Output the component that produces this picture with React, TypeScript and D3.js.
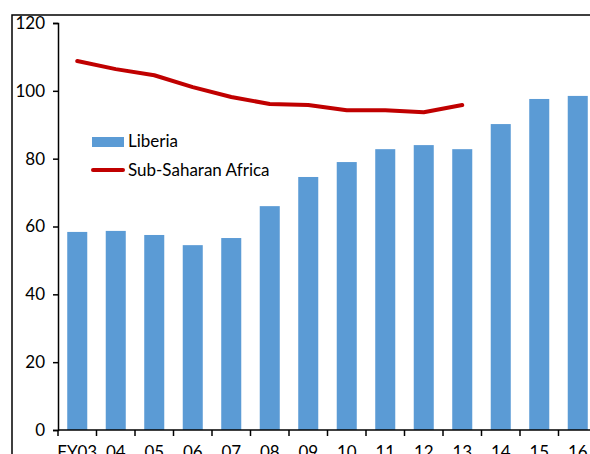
import React, { useEffect, useRef } from "react";
import * as d3 from "d3";

const years = ["FY03", "04", "05", "06", "07", "08", "09", "10", "11", "12", "13", "14", "15", "16"];
const liberia = [58.4, 58.7, 57.5, 54.5, 56.6, 66, 74.6, 79, 82.8, 84, 82.8, 90.2, 97.6, 98.5];
const ssa = [108.8, 106.4, 104.6, 101.1, 98.2, 96.1, 95.8, 94.3, 94.3, 93.7, 95.8];
const yTicks = [0, 20, 40, 60, 80, 100, 120];

const App = () => {
    const ref = useRef<SVGSVGElement>(null);

    useEffect(() => {
        const svg = d3.select(ref.current);
        svg.selectAll("*").remove();
        const font = "Lato, 'Open Sans', sans-serif";

        const x = d3.scaleBand().domain(years).range([58, 597]).paddingInner(0.48).paddingOuter(0.24);
        const y = d3.scaleLinear().domain([0, 120]).range([430, 23]);

        // outer frame
        svg.append("rect")
            .attr("x", 12).attr("y", 15)
            .attr("width", 600).attr("height", 460)
            .attr("fill", "none").attr("stroke", "#000").attr("stroke-width", 1.5);

        svg.append("g")
            .selectAll("rect")
            .data(liberia)
            .enter()
            .append("rect")
            .attr("x", (d, i) => x(years[i])!)
            .attr("y", d => y(d))
            .attr("width", x.bandwidth())
            .attr("height", d => y(0) - y(d))
            .attr("fill", "#5B9BD5");

        const line = d3.line<number>()
            .x((d, i) => x(years[i])! + x.bandwidth() / 2)
            .y(d => y(d));

        svg.append("path")
            .datum(ssa)
            .attr("d", line)
            .attr("fill", "none")
            .attr("stroke", "#C00000")
            .attr("stroke-width", 4)
            .attr("stroke-linecap", "round")
            .attr("stroke-linejoin", "round");

        // y axis
        const ya = svg.append("g")
            .attr("transform", "translate(58,0)")
            .call(d3.axisLeft(y).tickValues(yTicks).tickSize(5).tickPadding(8));
        ya.select(".domain").attr("stroke", "#000").attr("stroke-width", 1.5);
        ya.selectAll(".tick line").attr("stroke", "#000").attr("stroke-width", 1.5);
        ya.selectAll(".tick text").attr("font-family", font).attr("font-size", 17).attr("fill", "#000");

        // x axis
        const xSpan = d3.scaleLinear().domain([0, years.length]).range([58, 597]);
        const xa = svg.append("g").attr("transform", `translate(0,${y(0)})`);
        xa.append("line").attr("x1", 58).attr("x2", 597).attr("stroke", "#000").attr("stroke-width", 1.5);
        xa.selectAll("line.tk")
            .data(d3.range(years.length + 1))
            .enter()
            .append("line")
            .attr("class", "tk")
            .attr("x1", d => xSpan(d)).attr("x2", d => xSpan(d))
            .attr("y1", 0).attr("y2", 6)
            .attr("stroke", "#000").attr("stroke-width", 1.5);
        xa.selectAll("text")
            .data(years)
            .enter()
            .append("text")
            .attr("x", d => x(d)! + x.bandwidth() / 2)
            .attr("y", 28)
            .attr("text-anchor", "middle")
            .attr("font-family", font)
            .attr("font-size", 17)
            .text(d => d);

        // legend
        const lg = svg.append("g").attr("font-family", font).attr("font-size", 17);
        lg.append("rect").attr("x", 92).attr("y", 137).attr("width", 32).attr("height", 10).attr("fill", "#5B9BD5");
        lg.append("text").attr("x", 128).attr("y", 147).text("Liberia");
        lg.append("line").attr("x1", 93).attr("x2", 123).attr("y1", 170).attr("y2", 170)
            .attr("stroke", "#C00000").attr("stroke-width", 4).attr("stroke-linecap", "round");
        lg.append("text").attr("x", 128).attr("y", 176).text("Sub-Saharan Africa");
    }, []);

    return <svg ref={ref} width={590} height={454}
        style={{ position: "absolute", left: 0, top: 0, background: "#fff" }}></svg>;
};

export default App;
